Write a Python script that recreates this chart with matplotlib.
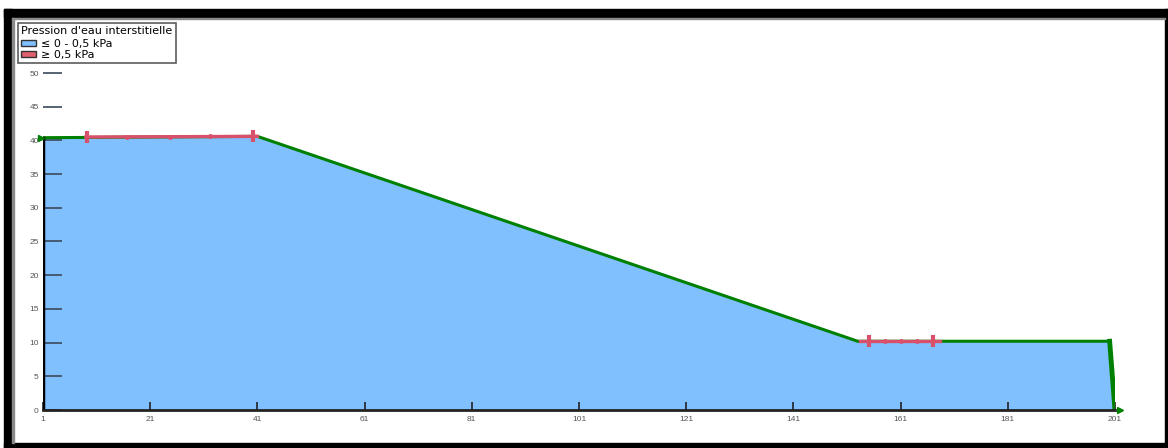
import matplotlib.pyplot as plt
from matplotlib.patches import Patch, Rectangle

# profil de la surface (distance, elevation)
profile_x = [1, 41, 153, 200, 201]
profile_y = [40.4, 40.6, 10.2, 10.2, 0.0]

# zones de pression >= 0,5 kPa (debut, fin, elevation)
red_x1 = [9.0, 41.0]
red_y1 = [40.5, 40.6]
red_x2 = [153.4, 168.3]
red_y2 = [10.2, 10.2]
red_ticks_x = [9.2, 40.2, 155.1, 167.0]
red_ticks_y = [40.5, 40.6, 10.2, 10.2]
red_dots_x = [16.7, 24.7, 32.2, 158.1, 161.1, 164.1]
red_dots_y = [40.5, 40.5, 40.6, 10.2, 10.2, 10.2]

x_ticks = [1, 21, 41, 61, 81, 101, 121, 141, 161, 181, 201]
y_ticks = [0, 5, 10, 15, 20, 25, 30, 35, 40, 45, 50]

W, H = 1168, 448
fig = plt.figure(figsize=(W / 100, H / 100), dpi=100)
plt.rcParams['font.family'] = ['Liberation Sans', 'DejaVu Sans']

# cadre noir autour de la fenetre
def px_rect(x0, y0, x1, y1, color):
    fig.patches.append(Rectangle((x0 / W, 1 - y1 / H), (x1 - x0) / W, (y1 - y0) / H,
                                 transform=fig.transFigure, color=color, zorder=0))

px_rect(4, 9, 1168, 17, 'black')
px_rect(4, 9, 12, 448, 'black')
px_rect(4, 443, 1168, 448, 'black')
px_rect(1165, 9, 1168, 448, 'black')
px_rect(12, 18, 1165, 19.5, '#8a8a8a')
px_rect(12, 18, 13.5, 443, '#8a8a8a')

ax = fig.add_axes([43 / W, 1 - 410 / H, (1115 - 43) / W, (410 - 73) / H])
ax.set_xlim(1, 201)
ax.set_ylim(0, 50)
ax.patch.set_alpha(0)
for s in ax.spines.values():
    s.set_visible(False)

ax.fill_between(profile_x, profile_y, 0, color='#80C0FF', lw=0, zorder=1)

# contour du profil
ax.plot(profile_x[:4], profile_y[:4], color='#008000', lw=2.2, zorder=3)
ax.plot(profile_x[3:], profile_y[3:], color='#008000', lw=3.5, zorder=3)
ax.plot([1, 1], [0, profile_y[0]], color='black', lw=2.5, zorder=4)
ax.plot([1, 201], [0, 0], color='#222222', lw=2, zorder=4, clip_on=False)

# zones rouges
ax.plot(red_x1, red_y1, color='#D9506A', lw=2.4, zorder=5)
ax.plot(red_x2, red_y2, color='#D9506A', lw=2.4, zorder=5)
ax.plot(red_ticks_x, red_ticks_y, ls='none', marker='|', ms=8, mew=3,
        color='#D9506A', zorder=6)
ax.plot(red_dots_x, red_dots_y, ls='none', marker='o', ms=2.5,
        color='#D9506A', zorder=6)

# fleches
ax.plot([0.6], [40.4], marker='>', ms=5, color='#008000', clip_on=False, zorder=6)
ax.plot([202], [0.0], marker='>', ms=5, color='#008000', clip_on=False, zorder=6)

ax.set_xticks(x_ticks)
ax.set_yticks(y_ticks)
ax.tick_params(axis='y', direction='in', length=14, width=1.2, color='#3A4A5A',
               labelsize=6, labelcolor='#555555', pad=3)
ax.tick_params(axis='x', direction='in', length=6, width=1.2, color='#222222',
               labelsize=6, labelcolor='#555555', pad=4)

handles = [Patch(facecolor='#80C0FF', edgecolor='#333333', label='≤ 0 - 0,5 kPa'),
           Patch(facecolor='#E06070', edgecolor='#333333', label='≥ 0,5 kPa')]
leg = fig.legend(handles=handles, title="Pression d'eau interstitielle",
                 loc='upper left', bbox_to_anchor=(18 / W, 1 - 23 / H),
                 prop={'family': 'DejaVu Sans', 'size': 8},
                 title_fontproperties={'family': 'DejaVu Sans', 'size': 8},
                 frameon=True, fancybox=False,
                 handlelength=1.3, handleheight=0.5, handletextpad=0.5,
                 labelspacing=0.08, borderpad=0.3, borderaxespad=0)
leg.get_frame().set_edgecolor('#333333')
leg.get_frame().set_linewidth(1.2)
leg._legend_box.align = 'left'
leg._legend_box.sep = 2

fig.savefig('out.png', dpi=100)
